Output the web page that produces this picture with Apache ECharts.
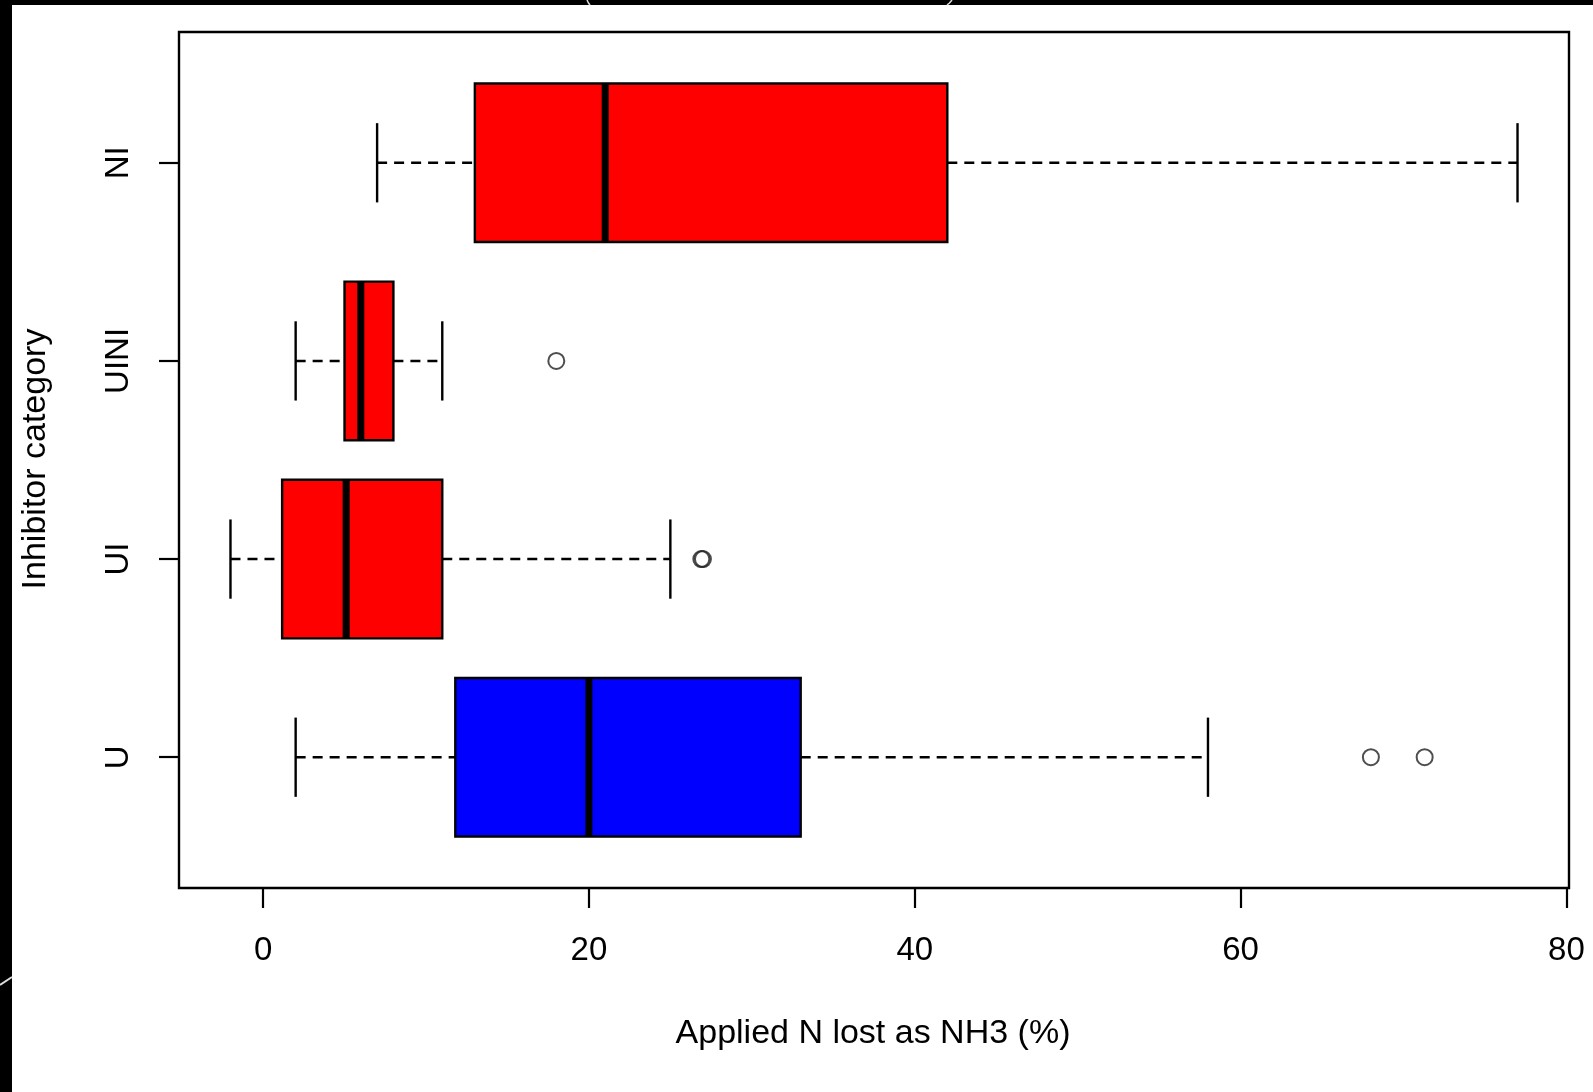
<!DOCTYPE html>
<html>
<head>
<meta charset="utf-8">
<script src="https://cdn.jsdelivr.net/npm/echarts@6/dist/echarts.min.js"></script>
<style>
  html, body { margin: 0; padding: 0; background: #fff; }
  #chart { width: 1593px; height: 1092px; }
</style>
</head>
<body>
<div id="chart"></div>
<script>
// ---- data ----
const categories = ['U', 'UI', 'UINI', 'NI'];          // bottom -> top
const whiskerLow  = [2,    -2,   2,  7];
const q1          = [11.8, 1.17, 5,  13];
const medians     = [20,   5.1,  6,  21];
const q3          = [33,   11,   8,  42];
const whiskerHigh = [58,   25,   11, 77];
// outliers: [category index, value]
const outliers = [[0, 68], [0, 71.3], [1, 26.9], [1, 27.0], [2, 18]];
const xTicks = [0, 20, 40, 60, 80];
const yTicks = [1, 2, 3, 4];
const xTitle = 'Applied N lost as NH3 (%)';
const yTitle = 'Inhibitor category';

const boxColors = ['#0000ff', '#ff0000', '#ff0000', '#ff0000'];
const FONT = '"Liberation Sans", Arial, sans-serif';

const boxData = categories.map((c, i) => [i, whiskerLow[i], q1[i], medians[i], q3[i], whiskerHigh[i]]);
const outlierData = outliers.map(o => [o[1], o[0] + 1]);

const chart = echarts.init(document.getElementById('chart'), null, { renderer: 'canvas' });

function renderBox(params, api) {
  const i = api.value(0);
  const lo = api.value(1), a = api.value(2), m = api.value(3), b = api.value(4), hi = api.value(5);
  const yc = i + 1;
  const pLo = api.coord([lo, yc]);
  const pA = api.coord([a, yc]);
  const pM = api.coord([m, yc]);
  const pB = api.coord([b, yc]);
  const pHi = api.coord([hi, yc]);
  const top = api.coord([a, yc + 0.4])[1];
  const bot = api.coord([a, yc - 0.4])[1];
  const capTop = api.coord([a, yc + 0.2])[1];
  const capBot = api.coord([a, yc - 0.2])[1];
  const y = pA[1];
  const dash = { stroke: '#000', lineWidth: 2.4, lineDash: [10, 7] };
  const solid = { stroke: '#000', lineWidth: 2.4 };
  return {
    type: 'group',
    children: [
      { type: 'line', shape: { x1: pLo[0], y1: y, x2: pA[0], y2: y }, style: dash },
      { type: 'line', shape: { x1: pB[0], y1: y, x2: pHi[0], y2: y }, style: dash },
      { type: 'line', shape: { x1: pLo[0], y1: capTop, x2: pLo[0], y2: capBot }, style: solid },
      { type: 'line', shape: { x1: pHi[0], y1: capTop, x2: pHi[0], y2: capBot }, style: solid },
      { type: 'rect', shape: { x: pA[0], y: top, width: pB[0] - pA[0], height: bot - top },
        style: { fill: boxColors[i], stroke: '#000', lineWidth: 2.4 } },
      { type: 'line', shape: { x1: pM[0], y1: top, x2: pM[0], y2: bot },
        style: { stroke: '#000', lineWidth: 7 } }
    ]
  };
}

const option = {
  backgroundColor: '#ffffff',
  animation: false,
  grid: {
    left: 179, right: 24, top: 32, bottom: 204,
    show: true, borderColor: '#000', borderWidth: 2.4, backgroundColor: 'transparent'
  },
  xAxis: {
    type: 'value', min: -5.16, max: 80.16,
    axisLine: { show: false, onZero: false },
    splitLine: { show: false },
    axisTick: { show: true, customValues: xTicks, length: 20, lineStyle: { color: '#000', width: 2.2 } },
    axisLabel: { show: true, customValues: xTicks, margin: 46, color: '#000',
      fontSize: 33, fontFamily: FONT, lineHeight: 33 }
  },
  yAxis: {
    type: 'value', min: 0.34, max: 4.66,
    axisLine: { show: false, onZero: false },
    splitLine: { show: false },
    axisTick: { show: true, customValues: yTicks, length: 20, lineStyle: { color: '#000', width: 2.2 } },
    axisLabel: { show: true, customValues: yTicks, rotate: 90, margin: 44, color: '#000',
      fontSize: 33, fontFamily: FONT, lineHeight: 33,
      formatter: v => categories[Math.round(v) - 1] }
  },
  series: [
    {
      type: 'custom',
      renderItem: renderBox,
      encode: { x: [1, 2, 3, 4, 5], y: 0 },
      data: boxData,
      z: 2
    },
    {
      type: 'scatter',
      data: outlierData,
      symbol: 'circle',
      symbolSize: 16,
      itemStyle: { color: 'rgba(0,0,0,0)', borderColor: '#222', borderWidth: 2 },
      z: 3
    }
  ],
  graphic: [
    { type: 'text', x: 873, y: 1034,
      style: { text: xTitle, fontSize: 34, fontFamily: FONT, fill: '#000', align: 'center', verticalAlign: 'middle' } },
    { type: 'text', x: 36, y: 459, rotation: Math.PI / 2,
      style: { text: yTitle, fontSize: 34, fontFamily: FONT, fill: '#000', align: 'center', verticalAlign: 'middle' } },
    { type: 'rect', shape: { x: 0, y: 0, width: 1593, height: 5 }, style: { fill: '#000' } },
    { type: 'rect', shape: { x: 0, y: 0, width: 12, height: 1092 }, style: { fill: '#000' } },
    { type: 'polyline', shape: { points: [[587, 0], [588.5, 3], [590, 5]] }, style: { stroke: '#ddd', lineWidth: 1.5, fill: null } },
    { type: 'polyline', shape: { points: [[952, 0], [949.5, 3], [947, 5]] }, style: { stroke: '#ddd', lineWidth: 1.5, fill: null } },
    { type: 'line', shape: { x1: 0, y1: 985, x2: 12, y2: 977 }, style: { stroke: '#ddd', lineWidth: 2 } }
  ]
};
chart.setOption(option);
</script>
</body>
</html>
